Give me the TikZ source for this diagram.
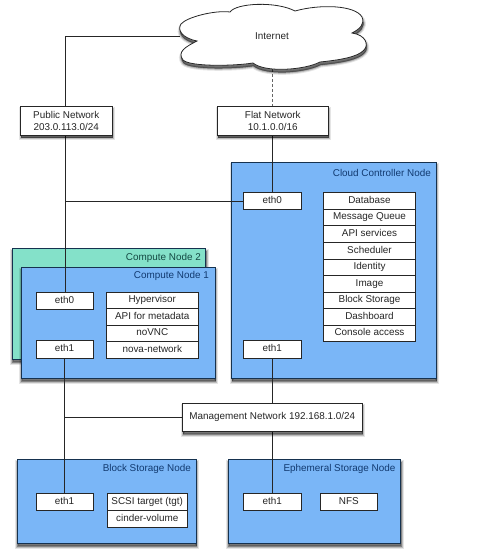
\documentclass[tikz,border=0pt]{standalone}
\usepackage{fontspec}
\setmainfont{Liberation Sans}
\usetikzlibrary{calc}
\pgfdeclarelayer{back}
\pgfdeclarelayer{conn}
\pgfsetlayers{back,conn,main}
\definecolor{nodeblue}{HTML}{7AB6F7}
\definecolor{nodeteal}{HTML}{84E1C9}
\definecolor{edgeblue}{HTML}{16324F}
\definecolor{titleblue}{HTML}{123A70}
\definecolor{titleteal}{HTML}{154A44}
\definecolor{txt}{HTML}{262626}
\tikzset{
  softshadow/.style={
    preaction={draw=black,fill=black,line width=5pt,opacity=.10,transform canvas={xshift=.5pt,yshift=-3pt}},
    preaction={draw=black,fill=black,line width=3pt,opacity=.18,transform canvas={xshift=.5pt,yshift=-3pt}},
    preaction={draw=black,fill=black,line width=1pt,opacity=.30,transform canvas={xshift=.5pt,yshift=-3pt}}},
  whitebox/.style={draw=black!85,fill=white,line width=.8pt,inner sep=0pt,outer sep=0pt,align=center,
    text=txt,font=\fontsize{9.9}{12}\selectfont},
  rowbox/.style={whitebox,text height=7.2pt,text depth=2.2pt},
  shadowbox/.style={whitebox,softshadow},
  bluenode/.style={draw=edgeblue,fill=nodeblue,line width=.9pt,inner sep=0pt,outer sep=0pt,softshadow},
  tealnode/.style={bluenode,fill=nodeteal},
  nodetitle/.style={anchor=east,inner sep=0pt,font=\fontsize{9.9}{12}\selectfont,text=titleblue},
  conline/.style={draw=black!85,line width=.8pt},
  dashline/.style={conline,draw=black!60,dash pattern=on 3pt off 2pt}
}
% name, x1, y1, x2, y2, style, text
\newcommand{\bx}[7]{%
  \pgfmathsetmacro{\bxw}{#4-#2}\pgfmathsetmacro{\bxh}{#5-#3}%
  \node[#6,minimum width=\bxw pt,minimum height=\bxh pt] (#1) at ({(#2+#4)/2},{(#3+#5)/2}) {#7};}
\begin{document}
\begin{tikzpicture}[x=1pt,y=-1pt]
\useasboundingbox (0,0) rectangle (476,556);
% containers
\begin{pgfonlayer}{back}
\bx{cn2}{12}{248}{205.5}{359}{tealnode}{}
\bx{cn1}{21}{267}{215}{378}{bluenode}{}
\bx{ccn}{231.5}{162.5}{436}{378}{bluenode}{}
\bx{bsn}{17}{459}{196}{543}{bluenode}{}
\bx{esn}{228}{459}{400.5}{543}{bluenode}{}
\end{pgfonlayer}
\node[nodetitle,text=titleteal] (cn2t) at (201,258) {Compute Node 2};
\node[nodetitle] (cn1t) at (209,276) {Compute Node 1};
\node[nodetitle] (ccnt) at (431,172.5) {Cloud Controller Node};
\node[nodetitle] (bsnt) at (191,469) {Block Storage Node};
\node[nodetitle] (esnt) at (395.5,469) {Ephemeral Storage Node};
% cloud
\path[draw=black!85,fill=white,line width=.8pt,softshadow]
  (197,41) .. controls (182,38) and (177,30) .. (181,24)
  .. controls (187,17) and (215,10) .. (230,12)
  .. controls (236,3) and (276,1) .. (295,11)
  .. controls (320,4) and (355,5) .. (362,17)
  .. controls (365,24) and (360,29) .. (352,33)
  .. controls (366,35) and (369,45) .. (364,50)
  .. controls (358,57) and (340,60) .. (320,62)
  .. controls (305,70) and (265,73) .. (253,63)
  .. controls (235,66) and (190,67) .. (183,60)
  .. controls (177,52) and (185,47) .. (197,41) -- cycle;
\node[inner sep=0pt,text=txt,font=\fontsize{9.9}{12}\selectfont] (inet) at (272,36.5) {Internet};
\coordinate (cloudW) at (180,36);
\coordinate (cloudS) at (272.5,69);
% networks
\bx{pub}{20.5}{106.5}{112}{135}{shadowbox}{Public Network\\203.0.113.0/24}
\bx{flat}{217.5}{106.5}{328}{135}{shadowbox}{Flat Network\\10.1.0.0/16}
\bx{mgmt}{182.5}{403}{362}{431}{shadowbox}{Management Network 192.168.1.0/24}
% cloud controller
\bx{ce0}{243.5}{192.5}{301}{209}{rowbox}{eth0}
\bx{ce1}{243.5}{340.5}{301}{358}{rowbox}{eth1}
\bx{s1}{323.5}{192.5}{415.5}{209}{rowbox}{Database}
\bx{s2}{323.5}{209}{415.5}{225.5}{rowbox}{Message Queue}
\bx{s3}{323.5}{225.5}{415.5}{242.5}{rowbox}{API services}
\bx{s4}{323.5}{242.5}{415.5}{259}{rowbox}{Scheduler}
\bx{s5}{323.5}{259}{415.5}{275.5}{rowbox}{Identity}
\bx{s6}{323.5}{275.5}{415.5}{292}{rowbox}{Image}
\bx{s7}{323.5}{292}{415.5}{308.5}{rowbox}{Block Storage}
\bx{s8}{323.5}{308.5}{415.5}{325}{rowbox}{Dashboard}
\bx{s9}{323.5}{325}{415.5}{341.5}{rowbox}{Console access}
% compute node
\bx{e0}{36}{292}{93}{309}{rowbox}{eth0}
\bx{e1}{36}{340.5}{93}{358}{rowbox}{eth1}
\bx{h1}{106.5}{292}{198}{308.5}{rowbox}{Hypervisor}
\bx{h2}{106.5}{308.5}{198}{325}{rowbox}{API for metadata}
\bx{h3}{106.5}{325}{198}{341.5}{rowbox}{noVNC}
\bx{h4}{106.5}{341.5}{198}{358}{rowbox}{nova-network}
% block storage
\bx{be1}{36}{493}{93}{510.5}{rowbox}{eth1}
\bx{b1}{107}{493}{187.5}{510}{rowbox}{SCSI target (tgt)}
\bx{b2}{107}{510}{187.5}{527}{rowbox}{cinder-volume}
% ephemeral storage
\bx{ee1}{243.5}{493}{301}{510}{rowbox}{eth1}
\bx{nfs}{320}{493}{377.5}{510}{rowbox}{NFS}
% connectors
\coordinate (j1) at (65,201);
\coordinate (j2) at (64.5,417);
\begin{pgfonlayer}{conn}
\draw[conline] (pub.north -| j1) |- (cloudW);
\draw[conline] (pub.south -| j1) -- (j1);
\draw[conline] (j1) -- (j1 |- e0.north);
\draw[conline] (j1) -- (ce0.west |- j1);
\draw[dashline] (cloudS) -- (cloudS |- flat.north);
\draw[conline] (flat.south -| cloudS) -- (cloudS |- ce0.north);
\draw[conline] (e1.south -| j2) -- (j2);
\draw[conline] (j2) -- (j2 |- be1.north);
\draw[conline] (j2) -- (mgmt.west |- j2);
\draw[conline] (ce1.south -| cloudS) -- (mgmt.north -| cloudS);
\draw[conline] (mgmt.south -| cloudS) -- (ee1.north -| cloudS);
\end{pgfonlayer}
\end{tikzpicture}
\end{document}
